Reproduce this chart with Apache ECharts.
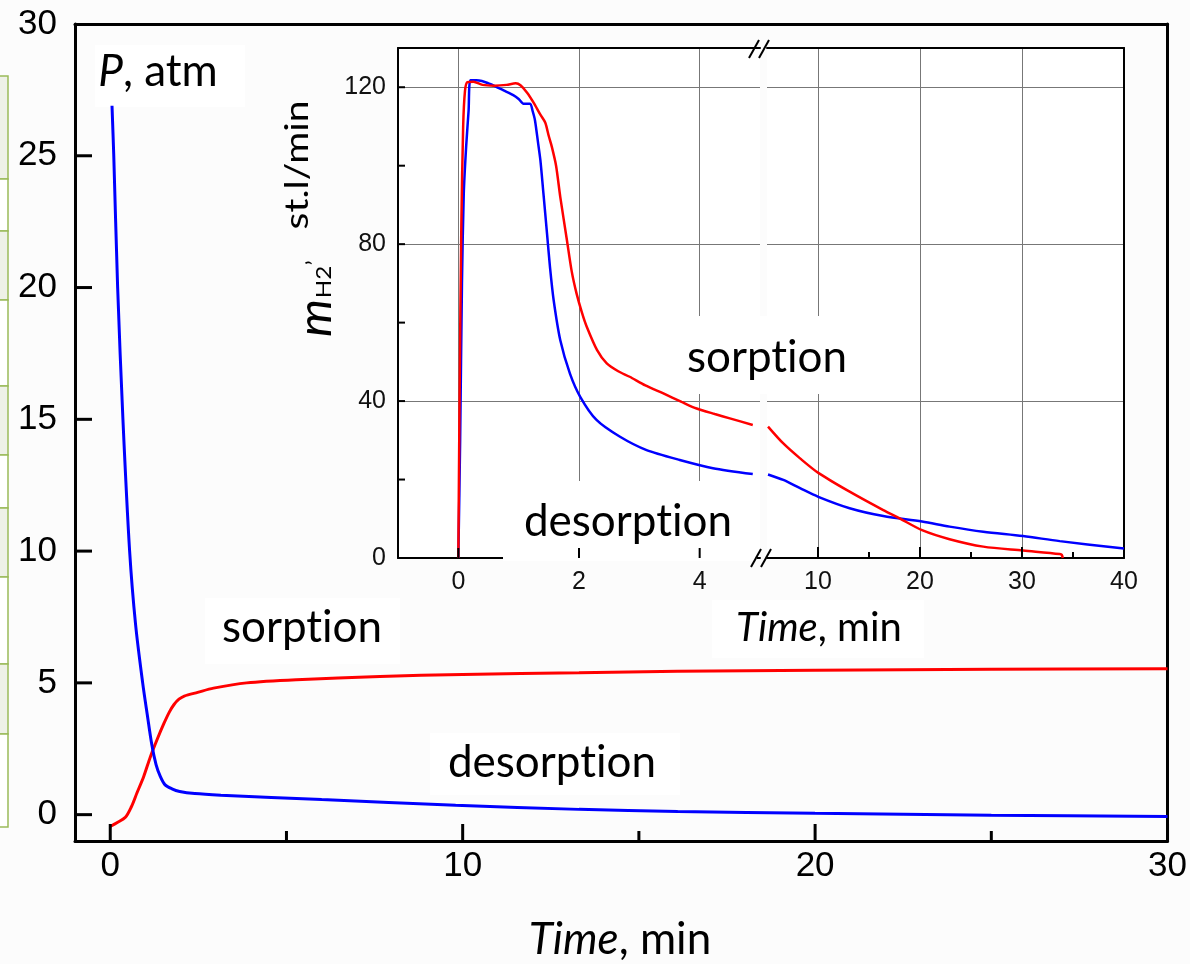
<!DOCTYPE html>
<html><head><meta charset="utf-8">
<script src="https://cdn.jsdelivr.net/npm/echarts@6/dist/echarts.min.js"></script>
<style>html,body{margin:0;padding:0;background:#fcfcfc}#c{width:1190px;height:964px}</style>
</head><body><div id="c"></div><script>
// ---- main chart: pressure vs time ----
const mainTicksX = [0, 10, 20, 30];
const mainMinorTicksX = [5, 15, 25];
const mainTicksY = [0, 5, 10, 15, 20, 25];
const mainLabelsX = [0, 10, 20, 30];
const mainLabelsY = [0, 5, 10, 15, 20, 25, 30];
const mainSorption = [[0,-0.45],[0.2,-0.3],[0.43,-0.1],[0.6,0.3],[0.76,0.83],[0.95,1.45],[1.14,2.2],[1.33,2.85],[1.52,3.45],[1.68,3.9],[1.81,4.18],[1.95,4.38],[2.1,4.5],[2.48,4.64],[2.93,4.8],[3.87,5.0],[5.28,5.12],[7.65,5.24],[10,5.32],[13.3,5.38],[16.1,5.44],[20,5.48],[25,5.52],[30,5.54]];
const mainDesorption = [[0.05,26.9],[0.1,25],[0.21,20],[0.36,15],[0.55,10],[0.72,7.2],[0.92,5],[1.05,3.8],[1.18,2.65],[1.3,1.9],[1.42,1.45],[1.55,1.14],[1.75,0.98],[1.97,0.88],[2.4,0.8],[3.14,0.74],[6,0.57],[9.8,0.36],[13.3,0.2],[16.1,0.12],[20,0.05],[25,-0.02],[30,-0.07]];
// ---- inset: hydrogen flow vs time (broken time axis at 5 min) ----
const insetLeftTicksX = [0, 2, 4];
const insetRightTicksX = [10, 20, 30];
const insetRightLabelsX = [10, 20, 30, 40];
const insetRightMinorTicksX = [15, 25, 35];
const insetTicksY = [0, 20, 40, 60, 80, 100, 120];
const insetLabelsY = [0, 40, 80, 120];
const insetSorptionEarly = [[0,0],[0.02,40],[0.05,85],[0.08,110],[0.11,119],[0.15,121.3],[0.25,121.4],[0.4,120.6],[0.6,120.4],[0.8,120.6],[0.95,121.0],[1.03,120.5],[1.14,118.6],[1.25,116],[1.36,113],[1.44,111],[1.5,107.5],[1.55,104.8],[1.62,100],[1.69,92],[1.8,81],[1.88,73],[1.96,67.4],[2.05,62.5],[2.13,58.9],[2.3,53],[2.46,49.6],[2.65,47.6],[2.84,46.2],[3.1,44],[3.39,42],[3.7,39.8],[3.95,38.1],[4.25,36.7],[4.5,35.6],[4.88,33.9]];
const insetSorptionLate = [[5.1,33.5],[6.6,29.2],[8.24,25.4],[10.03,21.7],[13.1,16.9],[16.4,12.2],[18,10.1],[20.2,7.1],[22.9,4.8],[26.2,2.9],[30.1,1.9],[33.7,1.0],[33.9,0.8],[34.0,0]];
const insetDesorptionEarly = [[0,0],[0.03,30],[0.06,70],[0.09,92.9],[0.13,105],[0.17,114],[0.2,121.8],[0.3,121.8],[0.39,121.6],[0.5,121],[0.58,120.5],[0.75,119.2],[0.91,118],[1.0,117],[1.08,115.8],[1.19,115.8],[1.23,114],[1.27,111.6],[1.32,106],[1.36,101.4],[1.41,93],[1.47,82.7],[1.52,74],[1.58,65.7],[1.69,55.5],[1.85,47],[2.02,41.1],[2.29,35.2],[2.68,30.9],[3.12,27.5],[3.67,25],[4.22,22.9],[4.88,21.4]];
const insetDesorptionLate = [[5.1,21.3],[6.6,19.9],[8.24,17.8],[10.03,15.6],[13.1,12.7],[16.4,10.7],[20.2,9.3],[22.9,8.0],[26.2,6.7],[30.1,5.6],[33.7,4.3],[40,2.4]];
// decorative table strip at the left edge (row boundaries, px)
const stripRows = [76, 179, 231, 300, 386, 455, 508, 577, 664, 734, 827];

const BLUE = '#0000ff', RED = '#ff0000';
const NUM = 'Liberation Sans, Arial, sans-serif';
const TXT = 'Lato, Open Sans, sans-serif';
const ZW = '\u200C'; // breaks the "ti" ligature

const chart = echarts.init(document.getElementById('c'), null, {renderer: 'canvas'});

function lineOnly(gridIndex, position, w, extra) {
  return Object.assign({gridIndex, position, type: 'value',
    axisLine: {show: true, onZero: false, lineStyle: {color: '#000', width: w}},
    axisTick: {show: false}, axisLabel: {show: false}, splitLine: {show: false}}, extra || {});
}

const graphics = [];
for (let i = 0; i < stripRows.length - 1; i++) {
  graphics.push({type: 'rect', z: 5, shape: {x: -3, y: stripRows[i], width: 11, height: stripRows[i+1] - stripRows[i]},
    style: {fill: i % 2 === 0 ? '#eef1e7' : '#ffffff', stroke: '#9bbb59', lineWidth: 1.5}});
}
function box(x, y, w, h) { graphics.push({type: 'rect', z: 5, shape: {x, y, width: w, height: h}, style: {fill: '#ffffff'}}); }
box(95, 45, 150, 62);
box(205, 598, 195, 66);
box(430, 733, 250, 62);
box(668, 316, 212, 78);
box(503, 481, 254, 80);
box(712, 600, 212, 58);
function txt(x, y, text, rich) {
  graphics.push({type: 'text', z: 30, x, y,
    style: {text, rich, fill: '#000', align: 'center', verticalAlign: 'middle', font: '44px ' + TXT}});
}
const labRich = {i: {fontFamily: TXT, fontSize: 44, fontStyle: 'italic', fill: '#000'}, n: {fontFamily: TXT, fontSize: 44, fill: '#000'}};
txt(158, 72, '{i|P}{n|, atm}', labRich);
txt(302, 628, '{n|sorpt' + ZW + 'ion}', labRich);
txt(552, 763, '{n|desorpt' + ZW + 'ion}', labRich);
txt(767, 358, '{n|sorpt' + ZW + 'ion}', labRich);
txt(628, 522, '{n|desorpt' + ZW + 'ion}', labRich);
txt(620, 940, '{i|Time}{n|, min}', labRich);
const smallRich = {i: {fontFamily: TXT, fontSize: 40, fontStyle: 'italic', fill: '#000'}, n: {fontFamily: TXT, fontSize: 40, fill: '#000'}};
txt(819, 628, '{i|Time}{n|, min}', smallRich);
// inset y-axis title (rotated)
const R = Math.PI / 2;
function rot(x, y, text, font, sx) {
  graphics.push({type: 'text', z: 30, x, y, rotation: R, scaleX: sx || 1,
    style: {text, fill: '#000', align: 'center', verticalAlign: 'middle', font}});
}
rot(316, 318, 'm', 'italic 46px ' + TXT, 1.05);
rot(324, 282, 'H2', '22px ' + TXT, 1.1);
rot(315, 263, '\u2019', '24px ' + TXT, 1);
rot(297, 165, 'st.l/min', '33px ' + TXT, 1.18);
function brk(x, y) {
  graphics.push({type: 'line', z: 30, shape: {x1: x - 10, y1: y + 9, x2: x, y2: y - 9}, style: {stroke: '#000', lineWidth: 2}});
  graphics.push({type: 'line', z: 30, shape: {x1: x, y1: y + 9, x2: x + 10, y2: y - 9}, style: {stroke: '#000', lineWidth: 2}});
}
brk(759, 49);
brk(761, 558);

const GRID = {color: '#777', width: 1};
const option = {
  backgroundColor: '#fcfcfc',
  animation: false,
  grid: [
    {left: 75, top: 24, width: 1097, height: 817},
    {left: 398, top: 48, width: 362, height: 510, show: true, backgroundColor: '#ffffff', borderWidth: 0},
    {left: 767, top: 48, width: 357, height: 510, show: true, backgroundColor: '#ffffff', borderWidth: 0}
  ],
  xAxis: [
    {gridIndex: 0, type: 'value', min: -1, max: 30, position: 'bottom',
      axisLine: {onZero: false, lineStyle: {color: '#000', width: 3}},
      axisTick: {show: false},
      axisLabel: {customValues: mainLabelsX, margin: 8, color: '#000', fontSize: 35, fontFamily: NUM},
      splitLine: {show: false}},
    lineOnly(0, 'top', 3, {min: -1, max: 30}),
    {gridIndex: 1, type: 'value', min: -1, max: 5, position: 'bottom',
      axisLine: {onZero: false, lineStyle: {color: '#000', width: 2}},
      axisTick: {show: false, customValues: insetLeftTicksX},
      axisLabel: {customValues: insetLeftTicksX.slice(), margin: 12, color: '#111', fontSize: 25, fontFamily: NUM},
      splitLine: {show: true, lineStyle: GRID}},
    lineOnly(1, 'top', 2, {min: -1, max: 5}),
    {gridIndex: 2, type: 'value', min: 5, max: 40, position: 'bottom',
      axisLine: {onZero: false, lineStyle: {color: '#000', width: 2}},
      axisTick: {show: false, customValues: insetRightTicksX.slice()},
      axisLabel: {customValues: insetRightLabelsX, margin: 12, color: '#111', fontSize: 25, fontFamily: NUM},
      splitLine: {show: true, lineStyle: GRID}},
    lineOnly(2, 'top', 2, {min: 5, max: 40})
  ],
  yAxis: [
    {gridIndex: 0, type: 'value', min: -1, max: 30, position: 'left',
      axisLine: {onZero: false, lineStyle: {color: '#000', width: 3}},
      axisTick: {show: false},
      axisLabel: {customValues: mainLabelsY, margin: 18, color: '#000', fontSize: 35, fontFamily: NUM},
      splitLine: {show: false}},
    lineOnly(0, 'right', 3, {min: -1, max: 30}),
    {gridIndex: 1, type: 'value', min: 0, max: 130, position: 'left',
      axisLine: {onZero: false, lineStyle: {color: '#000', width: 2}},
      axisTick: {show: false},
      axisLabel: {customValues: insetLabelsY, margin: 12, color: '#111', fontSize: 25, fontFamily: NUM},
      splitLine: {show: false}},
    {gridIndex: 1, type: 'value', min: 0, max: 130, interval: 40, position: 'left',
      axisLine: {show: false}, axisTick: {show: false}, axisLabel: {show: false},
      splitLine: {show: true, showMinLine: false, showMaxLine: false, lineStyle: GRID}},
    {gridIndex: 2, type: 'value', min: 0, max: 130, interval: 40, position: 'left',
      axisLine: {show: false}, axisTick: {show: false}, axisLabel: {show: false},
      splitLine: {show: true, showMinLine: false, showMaxLine: false, lineStyle: GRID}},
    lineOnly(2, 'right', 2, {min: 0, max: 130})
  ],
  series: [
    {type: 'line', name: 'sorption', xAxisIndex: 0, yAxisIndex: 0, data: mainSorption, showSymbol: false, smooth: 0.3, z: 10, lineStyle: {color: RED, width: 3}},
    {type: 'line', name: 'desorption', xAxisIndex: 0, yAxisIndex: 0, data: mainDesorption, showSymbol: false, smooth: 0.3, z: 10, lineStyle: {color: BLUE, width: 3}},
    {type: 'line', name: 'sorption flow early', xAxisIndex: 2, yAxisIndex: 2, data: insetSorptionEarly, showSymbol: false, smooth: 0.25, z: 10, lineStyle: {color: RED, width: 2.5}},
    {type: 'line', name: 'desorption flow early', xAxisIndex: 2, yAxisIndex: 2, data: insetDesorptionEarly, showSymbol: false, smooth: 0.25, z: 9, lineStyle: {color: BLUE, width: 2.5}},
    {type: 'line', name: 'sorption flow late', xAxisIndex: 4, yAxisIndex: 4, data: insetSorptionLate, showSymbol: false, smooth: 0.3, z: 10, lineStyle: {color: RED, width: 2.5}},
    {type: 'line', name: 'desorption flow late', xAxisIndex: 4, yAxisIndex: 4, data: insetDesorptionLate, showSymbol: false, smooth: 0.3, z: 9, lineStyle: {color: BLUE, width: 2.5}}
  ]
};
chart.setOption(option);

// tick marks as thin filled bars on their own layer, placed through the axes' own scales
function xTicks(xi, yi, yVal, values, len, w, zl) {
  const y0 = chart.convertToPixel({yAxisIndex: yi}, yVal);
  values.forEach(v => {
    const x = chart.convertToPixel({xAxisIndex: xi}, v);
    graphics.push({type: 'rect', zlevel: zl, z: 50, shape: {x: x - w / 2, y: y0 - len, width: w, height: len}, style: {fill: '#000'}});
  });
}
function yTicks(xi, xVal, yi, values, len, w, zl) {
  const x0 = chart.convertToPixel({xAxisIndex: xi}, xVal);
  values.forEach(v => {
    const y = chart.convertToPixel({yAxisIndex: yi}, v);
    graphics.push({type: 'rect', zlevel: zl, z: 50, shape: {x: x0, y: y - w / 2, width: len, height: w}, style: {fill: '#000'}});
  });
}
xTicks(0, 0, -1, mainTicksX, 17, 3, 1);
xTicks(0, 0, -1, mainMinorTicksX, 10, 3, 1);
yTicks(0, -1, 0, mainTicksY, 17, 3, 1);
xTicks(2, 2, 0, insetLeftTicksX, 10, 2, 0);
xTicks(4, 4, 0, insetRightTicksX, 11, 2, 0);
xTicks(4, 4, 0, insetRightMinorTicksX, 6, 2, 0);
yTicks(2, -1, 2, insetTicksY, 7, 2, 0);
chart.setOption({graphic: graphics});
</script></body></html>
